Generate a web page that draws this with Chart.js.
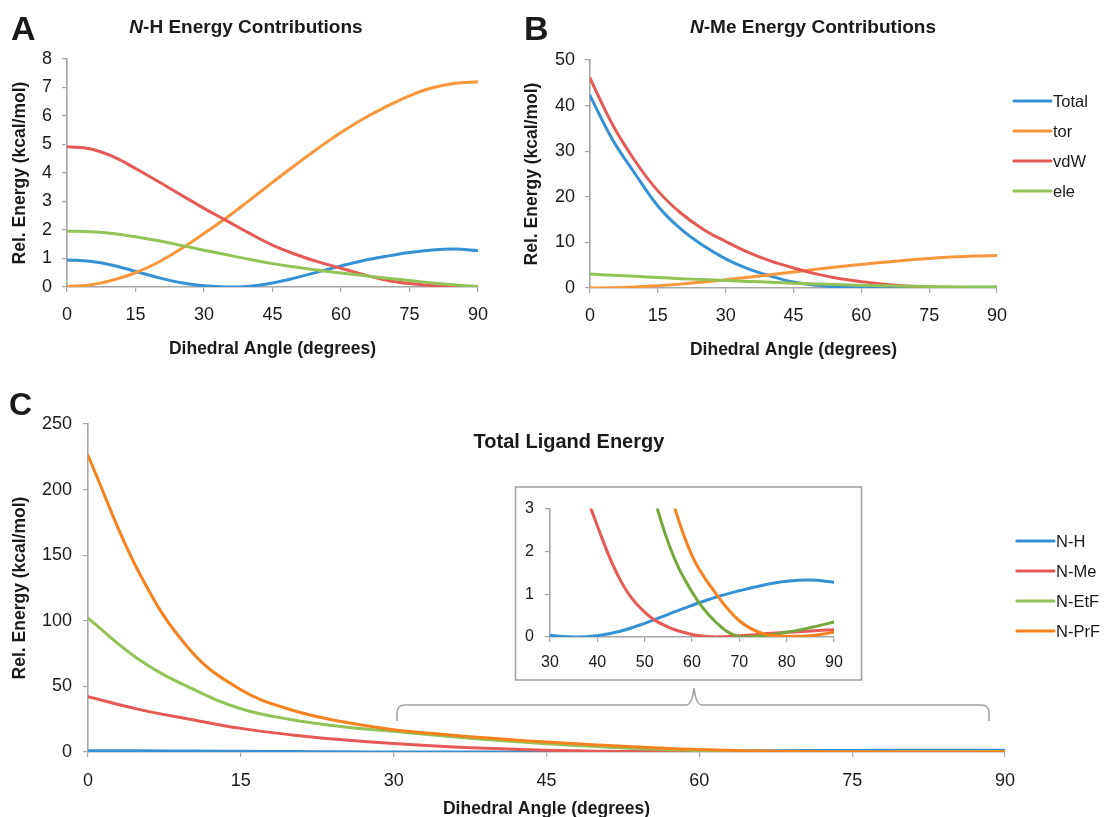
<!DOCTYPE html>
<html>
<head>
<meta charset="utf-8">
<title>Dihedral energy profiles</title>
<script src="https://cdn.jsdelivr.net/npm/chart.js@4.4.1/dist/chart.umd.min.js"></script>
<style>
  html, body { margin: 0; padding: 0; background: #fff; }
  body { width: 1104px; height: 817px; overflow: hidden; position: relative;
         font-family: "Liberation Sans", Arial, Helvetica, sans-serif; }
  canvas { position: absolute; }
  #overlay { position: absolute; left: 0; top: 0; pointer-events: none; }
</style>
</head>
<body>
<canvas id="chartA" width="505" height="370" style="left:0;top:0"></canvas>
<canvas id="chartB" width="599" height="370" style="left:505px;top:0"></canvas>
<canvas id="chartC" width="1104" height="460" style="left:0;top:370px"></canvas>
<canvas id="chartInset" width="343" height="191" style="left:517px;top:488px"></canvas>
<svg id="overlay" width="1104" height="817" xmlns="http://www.w3.org/2000/svg"
     font-family="Liberation Sans, Arial, Helvetica, sans-serif" fill="#1a1a1a">
  <text x="11" y="40" font-size="34" font-weight="bold">A</text>
  <text x="524" y="40" font-size="34" font-weight="bold">B</text>
  <text x="9" y="415" font-size="32" font-weight="bold">C</text>
  <text x="246" y="33" font-size="19" font-weight="bold" text-anchor="middle"><tspan font-style="italic">N</tspan>-H Energy Contributions</text>
  <text x="813" y="33" font-size="19" font-weight="bold" text-anchor="middle"><tspan font-style="italic">N</tspan>-Me Energy Contributions</text>
  <text x="569" y="448" font-size="20" font-weight="bold" text-anchor="middle">Total Ligand Energy</text>
  <rect x="515.5" y="487" width="346" height="193" fill="none" stroke="#a3a3a3" stroke-width="1.6"/>
  <path d="M397,721 L397,713 Q397,705 405,705 L686,705 Q692,705 694,688 Q696,705 702,705 L981,705 Q989,705 989,713 L989,721"
        fill="none" stroke="#a3a3a3" stroke-width="1.6"/>
  <g id="legendB"></g>
  <g id="legendC"></g>
</svg>

<script>
// Dihedral angle grid (degrees)
const angles = [0, 5, 10, 15, 20, 25, 30, 35, 40, 45, 50, 55, 60, 65, 70, 75, 80, 85, 90];

// Panel A: N-H energy terms (kcal/mol)
const nhTotal = [0.95, 0.90, 0.76, 0.55, 0.33, 0.15, 0.04, 0.00, 0.03, 0.14, 0.32, 0.53, 0.74, 0.93, 1.08, 1.21, 1.30, 1.33, 1.28];
const nhTor   = [0.02, 0.07, 0.24, 0.50, 0.87, 1.34, 1.88, 2.44, 3.05, 3.67, 4.28, 4.87, 5.42, 5.91, 6.34, 6.71, 6.99, 7.15, 7.20];
const nhVdw   = [4.92, 4.85, 4.58, 4.16, 3.70, 3.23, 2.76, 2.32, 1.88, 1.47, 1.15, 0.88, 0.66, 0.43, 0.24, 0.12, 0.05, 0.01, 0.00];
const nhEle   = [1.96, 1.94, 1.88, 1.76, 1.62, 1.46, 1.29, 1.13, 0.97, 0.82, 0.70, 0.59, 0.49, 0.40, 0.31, 0.23, 0.14, 0.07, 0.02];

// Panel B: N-Me energy terms (kcal/mol)
const nmeTotal = [42.2, 32.5, 25.0, 18.0, 13.0, 9.3, 6.4, 4.2, 2.6, 1.3, 0.58, 0.23, 0.06, 0.00, 0.03, 0.07, 0.11, 0.14, 0.17];
const nmeTor   = [0.00, 0.06, 0.23, 0.48, 0.85, 1.30, 1.82, 2.36, 2.93, 3.51, 4.09, 4.65, 5.17, 5.65, 6.09, 6.48, 6.80, 7.02, 7.12];
const nmeVdw   = [46.0, 35.8, 27.8, 21.3, 16.5, 12.9, 10.2, 7.8, 5.9, 4.4, 3.1, 2.1, 1.4, 0.85, 0.45, 0.22, 0.10, 0.04, 0.00];
const nmeEle   = [3.05, 2.80, 2.55, 2.30, 2.05, 1.85, 1.65, 1.45, 1.25, 1.05, 0.90, 0.75, 0.60, 0.50, 0.40, 0.32, 0.26, 0.22, 0.20];

// Panel C: total ligand energy for the larger substituents (kcal/mol)
const netfTotal = [102, 70.5, 49, 33, 24.6, 19.2, 15.8, 12.2, 9.0, 6.3, 4.1, 2.2, 1.05, 0.35, 0.00, 0.03, 0.11, 0.22, 0.35];
const nprfTotal = [226, 137, 78, 47.5, 32, 23, 17, 13.3, 10.2, 7.6, 5.4, 3.5, 1.9, 1.02, 0.38, 0.08, 0.02, 0.03, 0.11];

// Series names
const termNames  = ['Total', 'tor', 'vdW', 'ele'];
const groupNames = ['N-H', 'N-Me', 'N-EtF', 'N-PrF'];

// Tick values
const angleTicks = [0, 15, 30, 45, 60, 75, 90];
const yTicksA = [0, 1, 2, 3, 4, 5, 6, 7, 8];
const yTicksB = [0, 10, 20, 30, 40, 50];
const yTicksC = [0, 50, 100, 150, 200, 250];
const insetXTicks = [30, 40, 50, 60, 70, 80, 90];
const insetYTicks = [0, 1, 2, 3];

// Axis titles
const xTitle = 'Dihedral Angle (degrees)';
const yTitle = 'Rel. Energy (kcal/mol)';

// Styling
const FONT = '"Liberation Sans", Arial, Helvetica, sans-serif';
const TXT = '#1a1a1a';
const AXIS = '#a6a6a6';
const BLUE = '#3591d4', ORANGE = '#f7963b', RED = '#e65a55', GREEN = '#93c256';
const ORANGE_C = '#f6821f', GREEN_INSET = '#74a63b';

function series(label, values, color, order) {
  return {
    label,
    data: values.map((v, i) => ({ x: angles[i], y: v })),
    borderColor: color,
    backgroundColor: color,
    borderWidth: 3,
    pointRadius: 0,
    pointHoverRadius: 0,
    fill: false,
    tension: 0.4,
    borderCapStyle: 'round',
    borderJoinStyle: 'round',
    order
  };
}

function axis(ticks, o) {
  return {
    type: 'linear',
    min: ticks[0],
    max: ticks[ticks.length - 1],
    afterBuildTicks: s => { s.ticks = ticks.map(v => ({ value: v })); },
    afterFit: s => {
      if (o.width !== undefined) s.width = o.width;
      if (o.height !== undefined) s.height = o.height;
    },
    grid: { drawOnChartArea: false, drawTicks: true, tickLength: 5, color: AXIS, lineWidth: 1.2 },
    border: { display: true, color: AXIS, width: 1.6 },
    ticks: { color: TXT, font: { family: FONT, size: o.fs }, padding: o.pad, maxRotation: 0, autoSkip: false },
    title: o.title
      ? { display: true, text: o.title, color: TXT, padding: 0,
          font: { family: FONT, size: 17.5, weight: 'bold', lineHeight: 1.2 } }
      : { display: false }
  };
}

function makeChart(id, datasets, xAxis, yAxis) {
  const cfg = {
    type: 'line',
    data: { datasets },
    options: {
      responsive: false,
      animation: false,
      devicePixelRatio: 1,
      layout: { padding: { left: 0, top: 0, right: 0, bottom: 0 } },
      plugins: { legend: { display: false }, tooltip: { enabled: false }, title: { display: false } },
      events: [],
      scales: { x: xAxis, y: yAxis }
    }
  };
  const chart = new Chart(document.getElementById(id), cfg);
  return { chart, cfg };
}

// Shift the layout padding until the plot area sits in the given box (canvas pixels)
function pinArea(h, box) {
  for (let k = 0; k < 6; k++) {
    const a = h.chart.chartArea;
    const p = h.cfg.options.layout.padding;
    const dl = box.left - a.left, dt = box.top - a.top;
    const dr = a.right - box.right, db = a.bottom - box.bottom;
    if (Math.abs(dl) + Math.abs(dt) + Math.abs(dr) + Math.abs(db) < 0.01) break;
    p.left += dl; p.top += dt; p.right += dr; p.bottom += db;
    h.chart.update('none');
  }
}

// Panel A
const hA = makeChart('chartA', [
  series(termNames[0], nhTotal, BLUE, 3),
  series(termNames[1], nhTor, ORANGE, 2),
  series(termNames[2], nhVdw, RED, 1),
  series(termNames[3], nhEle, GREEN, 0)
], axis(angleTicks, { fs: 18, pad: 12, height: 72.5, title: xTitle }),
   axis(yTicksA, { fs: 18, pad: 10, width: 57.5, title: yTitle }));
pinArea(hA, { left: 67, top: 59, right: 478, bottom: 287 });

// Panel B
const hB = makeChart('chartB', [
  series(termNames[0], nmeTotal, BLUE, 3),
  series(termNames[1], nmeTor, ORANGE, 2),
  series(termNames[2], nmeVdw, RED, 1),
  series(termNames[3], nmeEle, GREEN, 0)
], axis(angleTicks, { fs: 18, pad: 12, height: 72.5, title: xTitle }),
   axis(yTicksB, { fs: 18, pad: 10, width: 68.5, title: yTitle }));
pinArea(hB, { left: 85, top: 60, right: 492, bottom: 288 });

// Panel C
const hC = makeChart('chartC', [
  series(groupNames[0], nhTotal, BLUE, 3),
  series(groupNames[1], nmeTotal, RED, 2),
  series(groupNames[2], netfTotal, GREEN, 1),
  series(groupNames[3], nprfTotal, ORANGE_C, 0)
], axis(angleTicks, { fs: 18, pad: 13, height: 67.5, title: xTitle }),
   axis(yTicksC, { fs: 18, pad: 11, width: 78.5, title: yTitle }));
pinArea(hC, { left: 88, top: 54, right: 1005, bottom: 382 });

// Inset: close-up of panel C between 30 and 90 degrees
const hI = makeChart('chartInset', [
  series(groupNames[0], nhTotal, BLUE, 3),
  series(groupNames[1], nmeTotal, RED, 2),
  series(groupNames[2], netfTotal, GREEN_INSET, 1),
  series(groupNames[3], nprfTotal, ORANGE_C, 0)
], axis(insetXTicks, { fs: 16, pad: 11 }),
   axis(insetYTicks, { fs: 16, pad: 11 }));
pinArea(hI, { left: 33, top: 14, right: 317, bottom: 149 });

// Legends built from the chart datasets
function buildLegend(chart, gid, x0, y0, step) {
  const g = document.getElementById(gid);
  const ns = 'http://www.w3.org/2000/svg';
  chart.data.datasets.forEach((ds, i) => {
    const y = y0 + i * step;
    const line = document.createElementNS(ns, 'line');
    line.setAttribute('x1', x0); line.setAttribute('x2', x0 + 37);
    line.setAttribute('y1', y); line.setAttribute('y2', y);
    line.setAttribute('stroke', ds.borderColor);
    line.setAttribute('stroke-width', 3.2);
    line.setAttribute('stroke-linecap', 'round');
    g.appendChild(line);
    const t = document.createElementNS(ns, 'text');
    t.setAttribute('x', x0 + 39); t.setAttribute('y', y + 6);
    t.setAttribute('font-size', '16.5');
    t.textContent = ds.label;
    g.appendChild(t);
  });
}
buildLegend(hB.chart, 'legendB', 1014, 101, 30);
buildLegend(hC.chart, 'legendC', 1017, 541, 30);
</script>
</body>
</html>
